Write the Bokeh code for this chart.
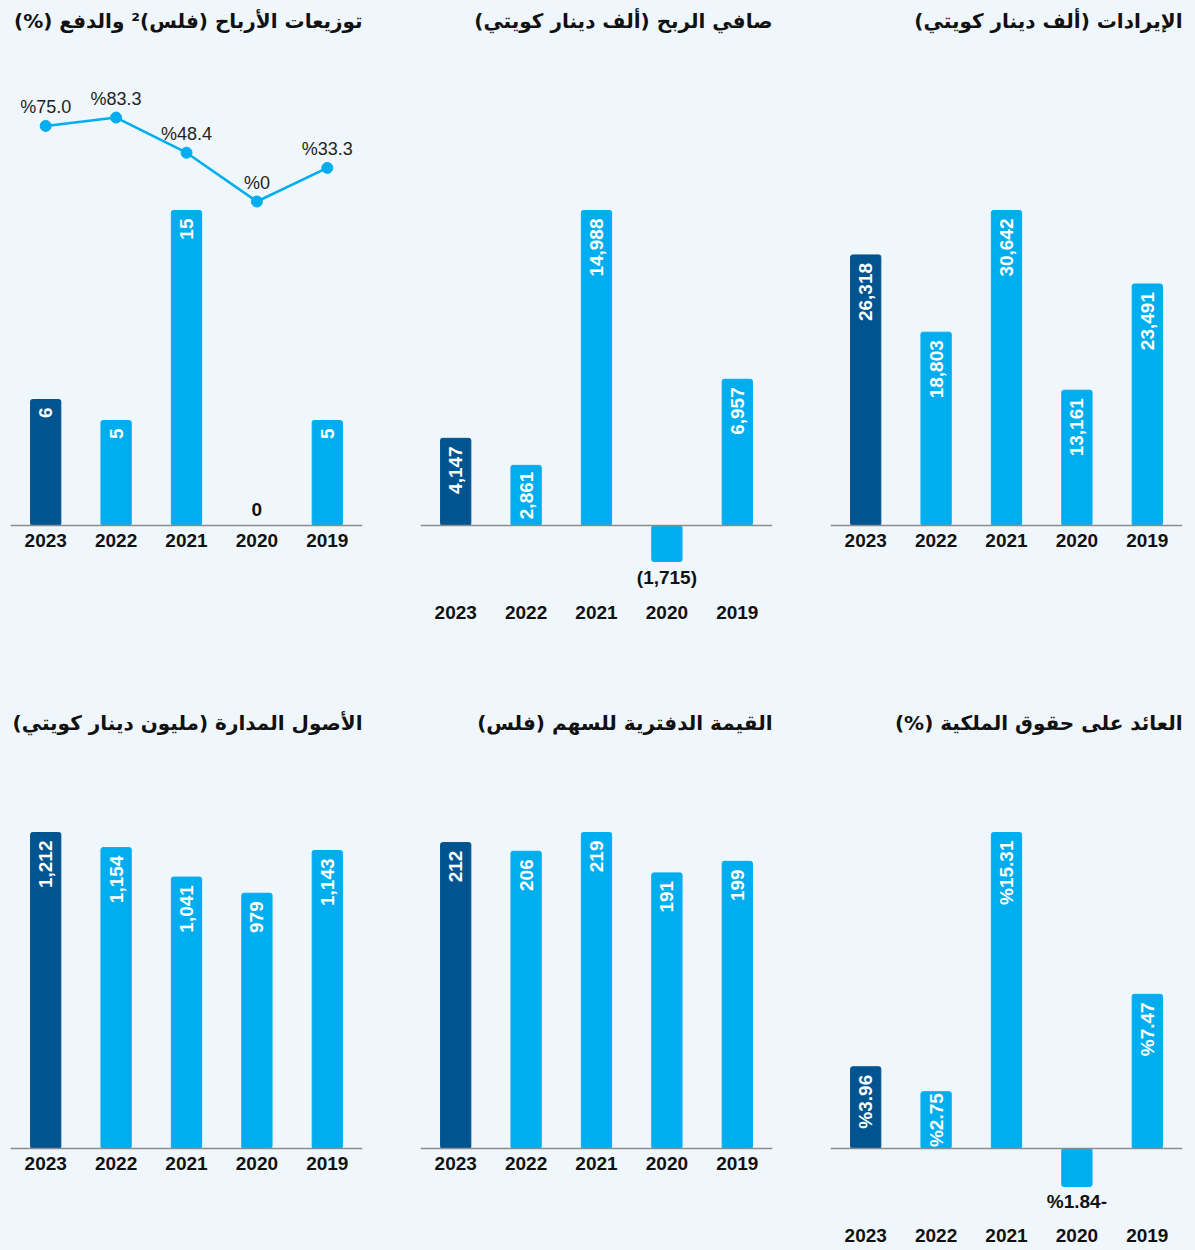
import math
from bokeh.plotting import figure
from bokeh.models import Range1d, FactorRange, Span, ColumnDataSource
from bokeh.layouts import column, row
from bokeh.embed import file_html
from bokeh.resources import INLINE
from bokeh.core.properties import value

# ---------------- data ----------------
years = ["2023", "2022", "2021", "2020", "2019"]

revenue = [26318, 18803, 30642, 13161, 23491]
revenue_labels = ["26,318", "18,803", "30,642", "13,161", "23,491"]

net_profit = [4147, 2861, 14988, -1715, 6957]
net_profit_labels = ["4,147", "2,861", "14,988", "(1,715)", "6,957"]

dividends = [6, 5, 15, 0, 5]
dividend_labels = ["6", "5", "15", "0", "5"]
payout = [75.0, 83.3, 48.4, 0, 33.3]
payout_labels = ["%75.0", "%83.3", "%48.4", "%0", "%33.3"]

roe = [3.96, 2.75, 15.31, -1.84, 7.47]
roe_labels = ["%3.96", "%2.75", "%15.31", "%1.84-", "%7.47"]

book_value = [212, 206, 219, 191, 199]
book_value_labels = ["212", "206", "219", "191", "199"]

aum = [1212, 1154, 1041, 979, 1143]
aum_labels = ["1,212", "1,154", "1,041", "979", "1,143"]

titles = {
    "revenue": "الإيرادات (ألف دينار كويتي)",
    "net_profit": "صافي الربح (ألف دينار كويتي)",
    "dividends": "توزيعات الأرباح (فلس)² والدفع (%)",
    "roe": "العائد على حقوق الملكية (%)",
    "book_value": "القيمة الدفترية للسهم (فلس)",
    "aum": "الأصول المدارة (مليون دينار كويتي)",
}

# ---------------- style ----------------
BG = "#eff7fd"
DARK = "#00548f"
LIGHT = "#00adee"
BASE = "#8c8c8c"
TXT = "#111111"
NUM_FONT = "Liberation Sans"
AR_FONT = "DejaVu Sans"
RLM = "\u200f"
LABEL_PX = 19

FIG_W = 393
LEFT = [2, 19, 36]
RIGHT = [39, 22, 5]
ROWS = {
    1: dict(h=692, top=26, base=517, full=315, bottom=589, standoff=0),
    2: dict(h=548, top=42, base=448, full=316, bottom=520, standoff=12),
}
# payout line scale: pixels per percentage point and zero-line height above the bar baseline
PAY_PX = 1.008
PAY_ZERO_ABOVE_BASE = 324

CHAR_W = {",": 0.278, ".": 0.278, "%": 0.889, "(": 0.333, ")": 0.333, "-": 0.333}


def text_width(s):
    return sum(CHAR_W.get(c, 0.556) for c in s) * LABEL_PX


def make_panel(key, vals, labels, col, rw):
    cfg = ROWS[rw]
    vmax = max(vals)
    has_neg = min(vals) < 0
    upx = cfg["full"] / vmax
    y_end = (cfg["base"] - cfg["top"]) / upx
    y_start = -(cfg["bottom"] - cfg["base"]) / upx

    p = figure(width=FIG_W, height=cfg["h"], x_range=FactorRange(*years),
               y_range=Range1d(y_start, y_end),
               output_backend="svg", toolbar_location=None,
               min_border_left=LEFT[col], min_border_right=RIGHT[col],
               min_border_top=cfg["top"], min_border_bottom=cfg["h"] - cfg["bottom"])
    p.x_range.range_padding = 0
    p.background_fill_color = BG
    p.border_fill_color = BG
    p.outline_line_color = None
    p.grid.visible = False
    p.yaxis.visible = False

    p.title.text = RLM + titles[key] + RLM
    p.title.align = "right"
    p.title.vertical_align = "top"
    p.title.text_font = AR_FONT
    p.title.text_font_size = "20px"
    p.title.text_font_style = "bold"
    p.title.text_color = TXT
    p.title.standoff = cfg["standoff"]

    ax = p.xaxis[0]
    ax.axis_line_color = None
    ax.major_tick_line_color = None
    ax.minor_tick_line_color = None
    ax.major_tick_out = 0
    ax.major_tick_in = 0
    ax.major_label_standoff = 8
    ax.major_label_text_font = NUM_FONT
    ax.major_label_text_font_style = "bold"
    ax.major_label_text_font_size = "19px"
    ax.major_label_text_color = TXT
    if not has_neg:
        ax.fixed_location = 0

    colors = [DARK] + [LIGHT] * (len(years) - 1)
    src = ColumnDataSource(dict(x=years, top=vals, color=colors))
    p.vbar(x="x", top="top", width=0.43, color="color", source=src, border_radius=2)

    p.add_layout(Span(location=0, dimension="width", line_color=BASE, line_width=1.5))

    # value labels
    for yr, v, lab in zip(years, vals, labels):
        s = ColumnDataSource(dict(x=[yr], y=[v], t=[lab]))
        length = text_width(lab)
        bar_px = abs(v) * upx
        pad = max(1.0, min(8.0, (bar_px - length) / 2))
        common = dict(x="x", y="y", text="t", source=s,
                      text_font=value(NUM_FONT), text_font_style="bold",
                      text_font_size="%dpx" % LABEL_PX)
        if v == 0:
            p.text(text_color=TXT, text_align="center", text_baseline="middle",
                   angle=0, y_offset=-16, **common)
        elif bar_px >= length + 2:
            if v > 0:
                p.text(text_color="white", text_align="right", text_baseline="middle",
                       angle=math.pi / 2, y_offset=pad, **common)
            else:
                p.text(text_color="white", text_align="left", text_baseline="middle",
                       angle=math.pi / 2, y_offset=-pad, **common)
        else:
            if v > 0:
                p.text(text_color=TXT, text_align="left", text_baseline="middle",
                       angle=math.pi / 2, y_offset=-6, **common)
            else:
                p.text(text_color=TXT, text_align="center", text_baseline="top",
                       angle=0, y_offset=5, **common)
    return p


def add_payout(p, rw):
    cfg = ROWS[rw]
    zero_px = cfg["base"] - PAY_ZERO_ABOVE_BASE
    p.extra_y_ranges = {"pay": Range1d(-(cfg["bottom"] - zero_px) / PAY_PX,
                                       (zero_px - cfg["top"]) / PAY_PX)}
    s = ColumnDataSource(dict(x=years, y=payout, t=payout_labels))
    p.line(x="x", y="y", source=s, y_range_name="pay", line_color=LIGHT, line_width=2.5)
    p.scatter(x="x", y="y", source=s, y_range_name="pay", size=11,
              fill_color=LIGHT, line_color=LIGHT)
    p.text(x="x", y="y", text="t", source=s, y_range_name="pay",
           text_font=value(NUM_FONT), text_font_size="18px", text_color="#222222",
           text_align="center", text_baseline="middle", y_offset=-19)


p_div = make_panel("dividends", dividends, dividend_labels, 0, 1)
add_payout(p_div, 1)
p_np = make_panel("net_profit", net_profit, net_profit_labels, 1, 1)
p_rev = make_panel("revenue", revenue, revenue_labels, 2, 1)
p_aum = make_panel("aum", aum, aum_labels, 0, 2)
p_bv = make_panel("book_value", book_value, book_value_labels, 1, 2)
p_roe = make_panel("roe", roe, roe_labels, 2, 2)

layout = column(row(p_div, p_np, p_rev, spacing=0),
                row(p_aum, p_bv, p_roe, spacing=0),
                spacing=0, margin=(8, 0, 0, 8))

html = file_html(layout, INLINE, title="chart")
i = html.rfind("</head>")
html = html[:i] + "<style>html, body { background: %s; }</style>\n" % BG + html[i:]
open("out.html", "w").write(html)
